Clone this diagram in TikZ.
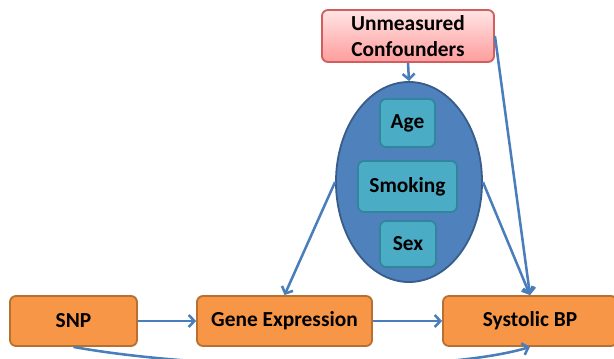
\documentclass[tikz,border=0pt]{standalone}
\usepackage{fontspec}
\setmainfont{Carlito}
\usepackage{tikz}
\usetikzlibrary{shapes.geometric,arrows.meta}
\definecolor{boxorange}{HTML}{F79646}
\definecolor{orangeline}{HTML}{B7702F}
\definecolor{ovalblue}{HTML}{4F81BD}
\definecolor{ovalline}{HTML}{385D8A}
\definecolor{innerteal}{HTML}{4BACC6}
\definecolor{innerline}{HTML}{31859C}
\definecolor{pinktop}{HTML}{FFE4E4}
\definecolor{pinkbottom}{HTML}{FF9C9C}
\definecolor{pinkline}{HTML}{CF5F5F}
\definecolor{arrowblue}{HTML}{4A7EBB}

\begin{document}
\begin{tikzpicture}[x=0.025cm,y=-0.025cm,
    font=\fontsize{15.2}{18}\selectfont\bfseries,
    orangebox/.style={draw=orangeline,fill=boxorange,line width=1.3pt,rounded corners=0.15cm,minimum height=1.25cm,inner sep=0pt},
    tealbox/.style={draw=innerline,fill=innerteal,line width=1.3pt,rounded corners=0.15cm,inner sep=0pt},
    link/.style={draw=arrowblue,line width=1.8pt,-{Straight Barb[length=0.14cm,width=0.3cm]}}]
            \clip (0,0) rectangle (614,358);
            \node[draw=pinkline,top color=pinktop,bottom color=pinkbottom,line width=1.3pt,rounded corners=0.15cm,minimum width=4.3cm,minimum height=1.3cm,align=center,inner sep=0pt] (conf) at (408,36) {Unmeasured\\Confounders};
            \node[ellipse,draw=ovalline,fill=ovalblue,line width=1.3pt,minimum width=3.65cm,minimum height=5cm,inner sep=0pt] (known) at (409,182) {};
            \node[tealbox,minimum width=1.375cm,minimum height=1.2cm] (age) at (407.5,123) {Age};
            \node[tealbox,minimum width=2.475cm,minimum height=1.275cm] (smoking) at (407.5,186.5) {Smoking};
            \node[tealbox,minimum width=1.4cm,minimum height=1.15cm] (sex) at (408,244) {Sex};
            \node[orangebox,minimum width=3.175cm] (snp) at (73.5,321) {SNP};
            \node[orangebox,minimum width=4.375cm] (gene) at (284.5,321) {Gene Expression};
            \node[orangebox,minimum width=4.35cm] (sbp) at (530,321) {Systolic BP};
            \draw[link] (conf.south) -- (known.north);
            \draw[link] (conf.east) -- (sbp.north);
            \draw[link] (known.east) -- (sbp.north);
            \draw[link] (known.west) -- (gene.north);
            \draw[link] (snp.east) -- (gene.west);
            \draw[link] (gene.east) -- (sbp.west);
            \draw[link] (snp.south) .. controls (200,370) and (440,374) .. (sbp.south);
        \end{tikzpicture}
\end{document}
